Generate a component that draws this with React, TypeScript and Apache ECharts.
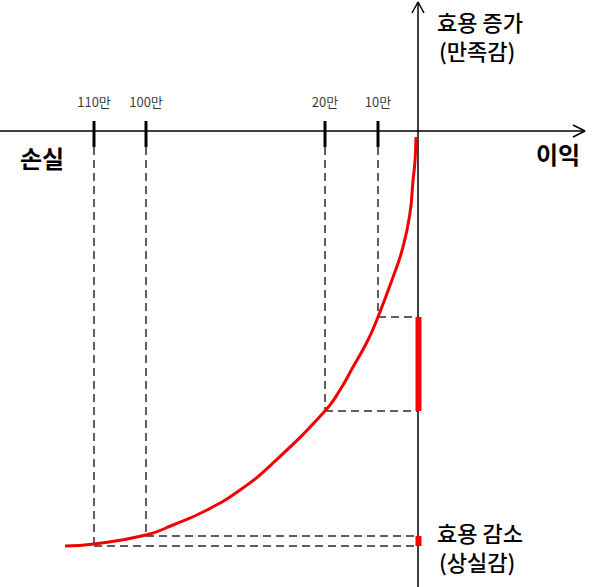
import React, { useEffect, useRef } from "react";
import * as echarts from "echarts";

// Schematic coordinates: x = position of loss (0 at the utility axis), y = utility (0 at the horizontal axis)
const tickLabels = ["110만", "100만", "20만", "10만"];
const tickX = [-324, -272, -93, -40];
const tickUtility = [-415, -405, -280, -186];

const curveX = [-353, -324, -272, -245, -211, -178, -145, -93, -78, -65, -50, -40, -26, -15, -8, -5, -3, -2];
const curveY = [-415, -413, -404, -394, -379, -359, -332, -280, -259, -236, -209, -186, -149, -116, -82, -50, -30, -6];

const X_MIN = -418;
const X_MAX = 183;
const Y_MIN = -456;
const Y_MAX = 131;

const FONT = "'Noto Sans CJK KR', 'Noto Sans', sans-serif";

export default function App() {
  const ref = useRef<HTMLDivElement>(null);
  useEffect(() => {
    if (!ref.current) return;
    const chart = echarts.init(ref.current, undefined, { renderer: "svg" });

    const seg = (data: number[][], color: string, width: number, type: any = "solid", z = 2) => ({
      type: "line",
      data,
      symbol: "none",
      silent: true,
      z,
      lineStyle: { color, width, type, cap: "butt" },
    });

    const series: any[] = [];
    // axes
    series.push(seg([[X_MIN, 0], [167, 0]], "#000", 1.5, "solid", 3));
    series.push(seg([[155, 6], [167, 0], [155, -6]], "#000", 1.5, "solid", 3));
    series.push(seg([[0, Y_MIN], [0, 129]], "#000", 1.5, "solid", 3));
    series.push(seg([[-6, 118], [0, 129], [6, 118]], "#000", 1.5, "solid", 3));
    // ticks and dashed guides
    tickX.forEach((x, i) => {
      const u = tickUtility[i];
      series.push(seg([[x, 10], [x, -16]], "#000", 3, "solid", 3));
      series.push(seg([[x, -16], [x, u]], "#2a2a2a", 1.5, [8, 5], 1));
      series.push(seg([[x, u], [0, u]], "#2a2a2a", 1.5, [8, 5], 1));
    });
    // curve
    series.push({
      type: "line",
      data: curveX.map((x, i) => [x, curveY[i]]),
      symbol: "none",
      smooth: 0.5,
      silent: true,
      z: 4,
      lineStyle: { color: "#f20000", width: 3 },
    });
    // red utility-change bars
    series.push(seg([[0.5, tickUtility[3]], [0.5, tickUtility[2]]], "#ff0000", 6, "solid", 5));
    series.push(seg([[0.5, tickUtility[1]], [0.5, tickUtility[0]]], "#ff0000", 6, "solid", 5));
    // tick labels
    series.push({
      type: "scatter",
      data: tickX.map((x, i) => ({ value: [x, 30], name: tickLabels[i] })),
      symbolSize: 0,
      silent: true,
      label: {
        show: true,
        position: "inside",
        formatter: (p: any) => p.name,
        color: "#000",
        fontSize: 13,
        fontFamily: FONT,
      },
    });

    const txt = (text: string, x: number, y: number, align: string, weight: string, size = 22) => ({
      type: "text",
      x,
      y,
      silent: true,
      style: {
        text,
        fill: "#000",
        font: `${weight} ${size}px ${FONT}`,
        textAlign: align,
        textVerticalAlign: "middle",
      },
    });

    chart.setOption({
      animation: false,
      grid: { left: 0, right: 0, top: 0, bottom: 0 },
      xAxis: { type: "value", min: X_MIN, max: X_MAX, show: false },
      yAxis: { type: "value", min: Y_MIN, max: Y_MAX, show: false },
      series,
      graphic: [
        txt("손실", 42, 157, "center", "bold", 24),
        txt("이익", 558, 153, "center", "bold", 24),
        txt("효용 증가", 437, 21, "left", "500"),
        txt("(만족감)", 439, 50, "left", "500"),
        txt("효용 감소", 437, 532, "left", "500"),
        txt("(상실감)", 439, 561, "left", "500"),
      ],
    });
    return () => chart.dispose();
  }, []);
  return (
    <div
      ref={ref}
      style={{ position: "fixed", left: 0, top: 0, width: 601, height: 587, background: "#fff" }}
    />
  );
}
